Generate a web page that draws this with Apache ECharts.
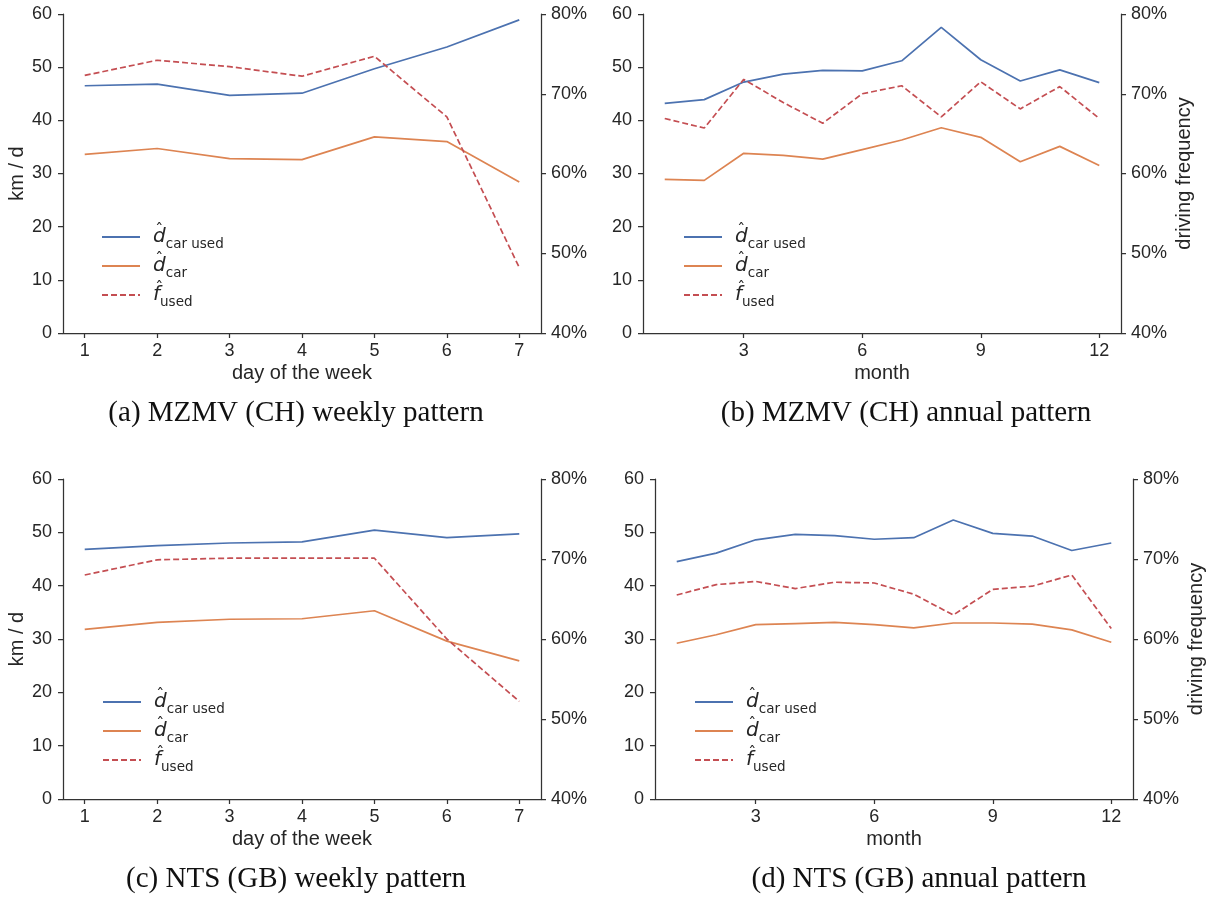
<!DOCTYPE html>
<html>
<head>
<meta charset="utf-8">
<script src="https://cdn.jsdelivr.net/npm/echarts@6/dist/echarts.min.js"></script>
<style>
html,body{margin:0;padding:0;background:#fff;}
#chart{width:1215px;height:897px;}
</style>
</head>
<body>
<div id="chart"></div>
<script>
// ---------- data ----------
const weekDays = [1, 2, 3, 4, 5, 6, 7];
const months = [1, 2, 3, 4, 5, 6, 7, 8, 9, 10, 11, 12];
const weekTicks = [1, 2, 3, 4, 5, 6, 7];
const monthTicks = [3, 6, 9, 12];

// (a) MZMV (CH) weekly
const chWeekDUsed = [46.5, 46.8, 44.7, 45.1, 49.7, 53.8, 58.9];
const chWeekDCar  = [33.6, 34.7, 32.8, 32.6, 36.9, 36.0, 28.4];
const chWeekFUsed = [72.3, 74.2, 73.4, 72.2, 74.7, 67.1, 48.2];

// (b) MZMV (CH) annual
const chYearDUsed = [43.2, 43.9, 47.2, 48.7, 49.4, 49.3, 51.2, 57.5, 51.4, 47.4, 49.5, 47.1];
const chYearDCar  = [28.9, 28.7, 33.8, 33.4, 32.7, 34.5, 36.3, 38.6, 36.8, 32.2, 35.1, 31.5];
const chYearFUsed = [66.9, 65.7, 71.8, 68.9, 66.3, 70.0, 71.0, 67.1, 71.5, 68.1, 70.9, 66.9];

// (c) NTS (GB) weekly
const gbWeekDUsed = [46.8, 47.5, 48.0, 48.2, 50.4, 49.0, 49.7];
const gbWeekDCar  = [31.8, 33.1, 33.7, 33.8, 35.3, 29.6, 25.9];
const gbWeekFUsed = [68.0, 69.9, 70.1, 70.1, 70.1, 60.0, 52.2];

// (d) NTS (GB) annual
const gbYearDUsed = [44.5, 46.1, 48.6, 49.6, 49.4, 48.7, 49.0, 52.3, 49.8, 49.3, 46.6, 48.0];
const gbYearDCar  = [29.2, 30.8, 32.7, 32.9, 33.1, 32.7, 32.1, 33.0, 33.0, 32.8, 31.7, 29.4];
const gbYearFUsed = [65.5, 66.8, 67.2, 66.3, 67.1, 67.0, 65.6, 63.0, 66.2, 66.6, 68.0, 61.3];

const captions = [
  '(a) MZMV (CH) weekly pattern',
  '(b) MZMV (CH) annual pattern',
  '(c) NTS (GB) weekly pattern',
  '(d) NTS (GB) annual pattern'
];

// ---------- styles ----------
const BLUE = '#4C72B0', ORANGE = '#DD8452', RED = '#C44E52';
const AX = '#333333', TXT = '#262626';
const FONT = 'Liberation Sans, Arial, sans-serif';

const panels = [
  {x: weekDays, ticks: weekTicks, min: 0.7, max: 7.3, xName: 'day of the week', yName: 'km / d', rName: '',
   d1: chWeekDUsed, d2: chWeekDCar, f: chWeekFUsed,
   grid: {left: 63, top: 14, width: 478, height: 319}, legend: {left: 101, top: 222.5},
   cap: {x: 296, y: 399}},
  {x: months, ticks: monthTicks, min: 0.45, max: 12.55, xName: 'month', yName: '', rName: 'driving frequency',
   d1: chYearDUsed, d2: chYearDCar, f: chYearFUsed,
   grid: {left: 643, top: 14, width: 478, height: 319}, legend: {left: 683, top: 222.5},
   cap: {x: 906, y: 399}},
  {x: weekDays, ticks: weekTicks, min: 0.7, max: 7.3, xName: 'day of the week', yName: 'km / d', rName: '',
   d1: gbWeekDUsed, d2: gbWeekDCar, f: gbWeekFUsed,
   grid: {left: 63, top: 479, width: 478, height: 320}, legend: {left: 102, top: 687.5},
   cap: {x: 296, y: 865}},
  {x: months, ticks: monthTicks, min: 0.45, max: 12.55, xName: 'month', yName: '', rName: 'driving frequency',
   d1: gbYearDUsed, d2: gbYearDCar, f: gbYearFUsed,
   grid: {left: 655, top: 479, width: 478, height: 320}, legend: {left: 694, top: 687.5},
   cap: {x: 919, y: 865}}
];

const axisLine = {show: true, lineStyle: {color: AX, width: 1.25}};
const axisTick = {show: true, inside: false, length: 5, lineStyle: {color: AX, width: 1.25}};

const grid = [], xAxis = [], yAxis = [], series = [], legend = [], title = [];

function pairs(xs, ys) { return xs.map((v, i) => [v, ys[i]]); }

panels.forEach((p, i) => {
  grid.push(Object.assign({containLabel: false}, p.grid));
  xAxis.push({
    type: 'value', gridIndex: i, min: p.min, max: p.max,
    name: p.xName, nameLocation: 'middle', nameGap: 30,
    nameTextStyle: {fontFamily: FONT, fontSize: 20, color: TXT},
    axisLine: axisLine,
    axisTick: Object.assign({customValues: p.ticks}, axisTick),
    axisLabel: {customValues: p.ticks, margin: 9, fontFamily: FONT, fontSize: 18, color: TXT},
    splitLine: {show: false}
  });
  yAxis.push({
    type: 'value', gridIndex: i, min: 0, max: 60, interval: 10, position: 'left',
    name: p.yName, nameLocation: 'middle', nameGap: 36, nameRotate: 90,
    nameTextStyle: {fontFamily: FONT, fontSize: 20, color: TXT},
    axisLine: axisLine, axisTick: axisTick,
    axisLabel: {margin: 11, fontFamily: FONT, fontSize: 18, color: TXT},
    splitLine: {show: false}
  });
  yAxis.push({
    type: 'value', gridIndex: i, min: 40, max: 80, interval: 10, position: 'right',
    name: p.rName, nameLocation: 'middle', nameGap: 53, nameRotate: 90,
    nameTextStyle: {fontFamily: FONT, fontSize: 20, color: TXT},
    axisLine: axisLine, axisTick: axisTick,
    axisLabel: {margin: 10, fontFamily: FONT, fontSize: 18, color: TXT, formatter: '{value}%'},
    splitLine: {show: false}
  });
  const common = {type: 'line', xAxisIndex: i, symbol: 'none', showSymbol: false, smooth: false, silent: true, animation: false};
  series.push(Object.assign({}, common, {name: 'dcarused', yAxisIndex: 2 * i, data: pairs(p.x, p.d1),
    lineStyle: {color: BLUE, width: 1.7}, itemStyle: {color: BLUE}}));
  series.push(Object.assign({}, common, {name: 'dcar', yAxisIndex: 2 * i, data: pairs(p.x, p.d2),
    lineStyle: {color: ORANGE, width: 1.7}, itemStyle: {color: ORANGE}}));
  series.push(Object.assign({}, common, {name: 'fused', yAxisIndex: 2 * i + 1, data: pairs(p.x, p.f),
    lineStyle: {color: RED, width: 1.7, type: [6, 3]}, itemStyle: {color: RED}}));
  legend.push({
    orient: 'vertical', left: p.legend.left, top: p.legend.top, padding: 0, itemGap: 0,
    itemWidth: 38, itemHeight: 12, selectedMode: false,
    itemStyle: {opacity: 0, borderWidth: 0},
    data: ['dcarused', 'dcar', 'fused'],
    formatter: function (name) {
      if (name === 'dcarused') return '{h|  \u02C6}{m|d}{s|car used}';
      if (name === 'dcar') return '{h|  \u02C6}{m|d}{s|car}';
      return '{h|  \u02C6}{m|f}{s|used}';
    },
    textStyle: {
      color: TXT,
      rich: {
        h: {fontFamily: 'DejaVu Sans', fontSize: 16, lineHeight: 16, width: 0.01, verticalAlign: 'top', color: TXT},
        m: {fontFamily: 'DejaVu Sans', fontStyle: 'italic', fontSize: 20, lineHeight: 29, color: TXT, padding: [0, 0, 0, 8]},
        s: {fontFamily: 'DejaVu Sans', fontSize: 13.5, lineHeight: 18, verticalAlign: 'bottom', color: TXT}
      }
    }
  });
  title.push({
    text: captions[i], left: p.cap.x, top: p.cap.y, textAlign: 'center', padding: 0,
    textStyle: {fontFamily: 'Liberation Serif, Times New Roman, serif', fontWeight: 'normal', fontSize: 29, color: '#111'}
  });
});

const chart = echarts.init(document.getElementById('chart'), null, {renderer: 'canvas'});
chart.setOption({
  animation: false,
  backgroundColor: '#ffffff',
  title: title,
  grid: grid,
  xAxis: xAxis,
  yAxis: yAxis,
  legend: legend,
  series: series
});
</script>
</body>
</html>
